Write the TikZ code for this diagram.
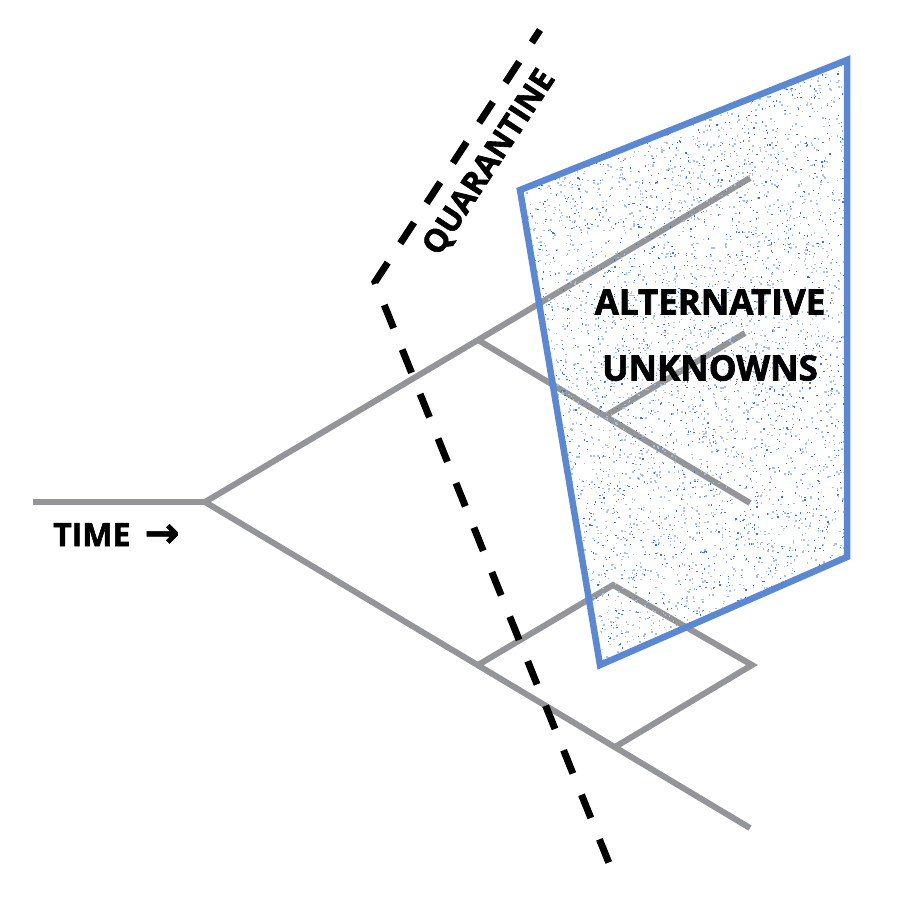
\documentclass[tikz,border=0pt]{standalone}
\usepackage{fontspec}
\setmainfont{Open Sans}[BoldFeatures={FakeBold=1.8}]
\newfontfamily\arrowfont{DejaVu Sans}[BoldFeatures={FakeBold=1.5}]
\begin{document}
\begin{tikzpicture}[x=1pt,y=-1pt,
  branch/.style={draw=treegray,line width=6pt,line join=miter,line cap=butt},
  border/.style={draw=boxblue,line width=6.5pt,line join=miter},
  fence/.style={draw=black,line width=7pt,dash pattern=on 25pt off 23pt,dash phase=10pt},
  lab/.style={font=\bfseries\fontsize{32}{34}\selectfont,inner sep=0pt,text=black},
  biglab/.style={font=\bfseries\fontsize{35}{38}\selectfont,inner sep=0pt,text=black}]
\definecolor{treegray}{HTML}{939598}
\definecolor{boxblue}{HTML}{5B88D4}
\definecolor{dotblue}{HTML}{3A78CC}
\definecolor{dotlight}{HTML}{A8C3EA}
\useasboundingbox (0,0) rectangle (900,900);
% tree coordinates
\coordinate (s) at (33,502);
\coordinate (r) at (205,502);
\coordinate (u) at (478,340);
\coordinate (ut) at (750,178);
\coordinate (um) at (605,416);
\coordinate (umt) at (745,333);
\coordinate (ub) at (750,503);
\coordinate (d) at (478,665);
\coordinate (dp) at (613,585);
\coordinate (dr) at (752,665);
\coordinate (dm) at (615,747);
\coordinate (db) at (750,828);
% tree
\draw[branch] (s) -- (r);
\draw[branch] (r) -- (u) -- (ut);
\draw[branch] (u) -- (ub);
\draw[branch] (um) -- (umt);
\draw[branch] (r) -- (db);
\draw[branch] (d) -- (dp) -- (dr) -- (dm);
% stippled region
\coordinate (p1) at (520,190);
\coordinate (p2) at (847,60);
\coordinate (p3) at (847,557);
\coordinate (p4) at (600,665);
\begin{scope}
  \clip (p1) -- (p2) -- (p3) -- (p4) -- cycle;
  \pgfmathsetseed{7}
  \foreach \i in {1,...,6000}{
    \pgfmathsetmacro\px{520+327*rnd}
    \pgfmathsetmacro\py{60+605*rnd}
    \pgfmathsetmacro\pc{rnd}
    \ifdim\pc pt<0.35pt
      \fill[dotblue] (\px,\py) rectangle +(1.2,1.2);
    \else
      \fill[dotlight] (\px,\py) rectangle +(1.5,1.5);
    \fi
  }
\end{scope}
\draw[border] (p1) -- (p2) -- (p3) -- (p4) -- cycle;
% quarantine fence
\coordinate (q1) at (540,30);
\coordinate (q2) at (375,282);
\coordinate (q3) at (613,873);
\draw[fence] (q1) -- (q2) -- (q3);
% labels
\node[lab,rotate=56.8] (quar) at (490,163) {QUARANTINE};
\node[biglab] (alt) at (710,302) {ALTERNATIVE};
\node[biglab] (unk) at (710,368) {UNKNOWNS};
\node[lab,anchor=base west] (time) at (53,546) {TIME\hspace{14pt}{\arrowfont\bfseries\fontsize{42}{44}\selectfont\raisebox{-1pt}{→}}};
\end{tikzpicture}
\end{document}
